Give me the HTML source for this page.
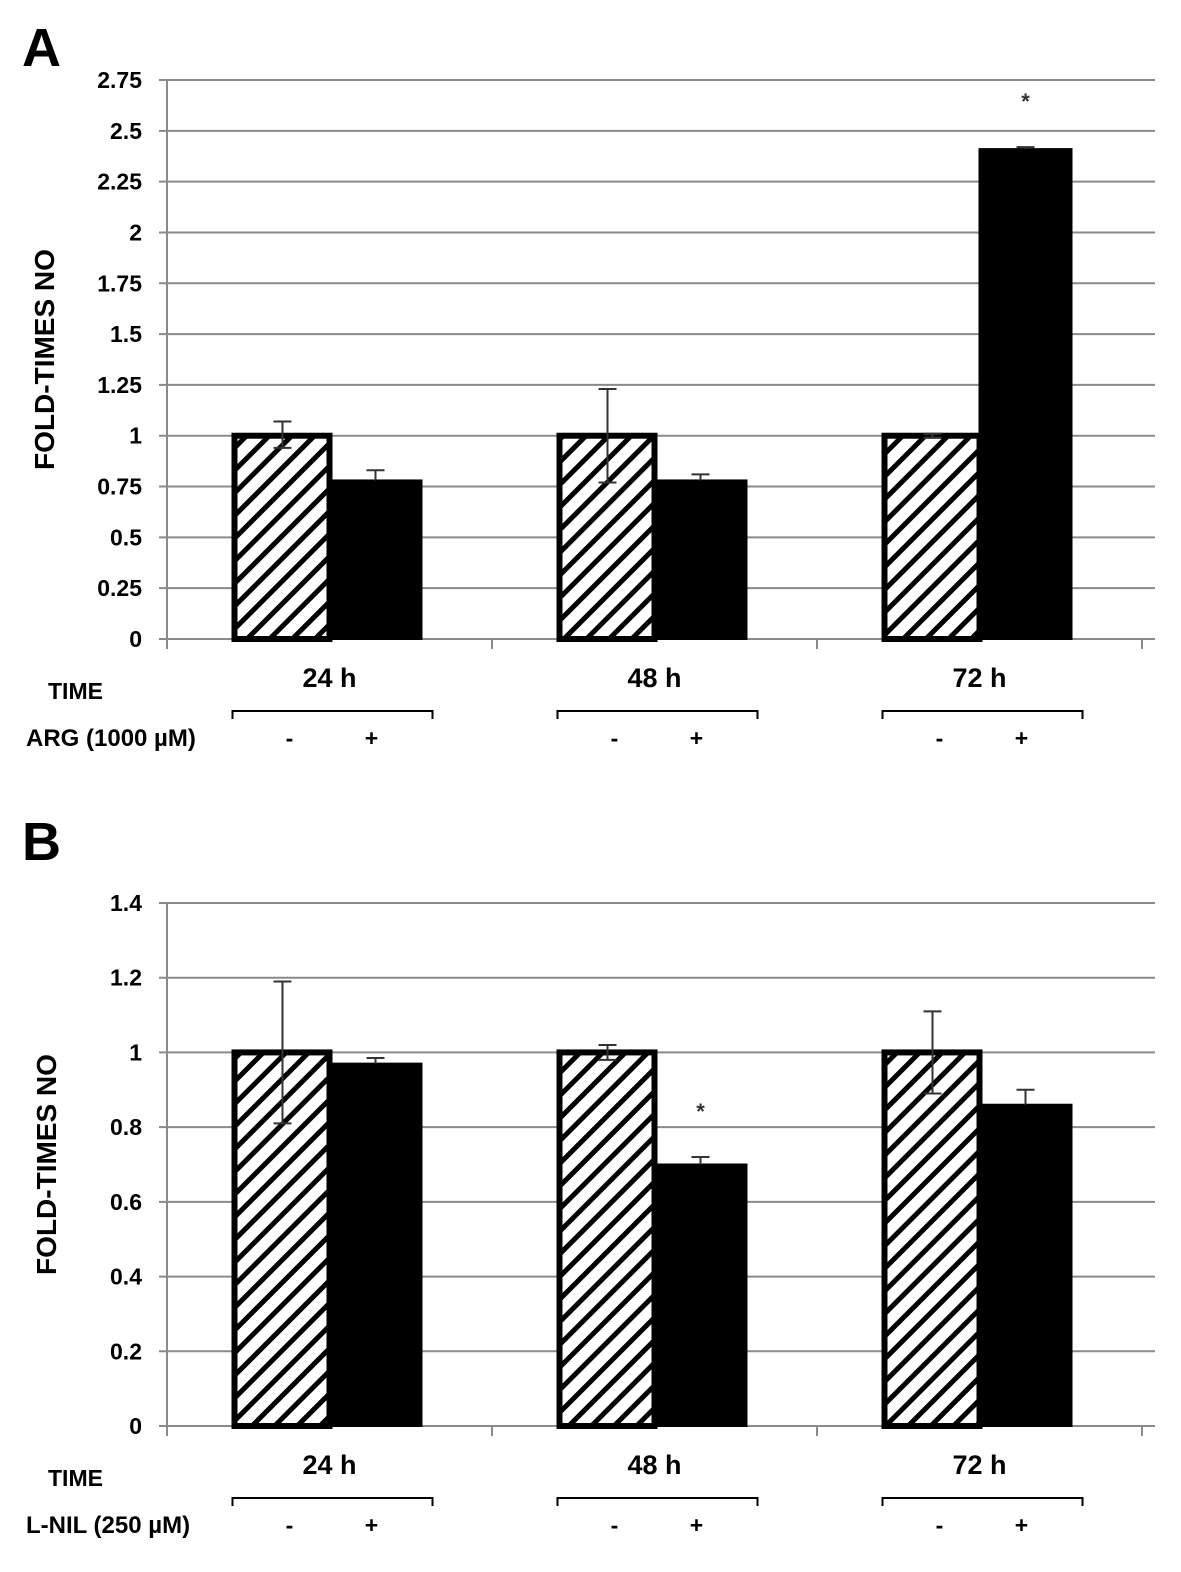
<!DOCTYPE html>
<html><head><meta charset="utf-8"><style>
html,body{margin:0;padding:0;background:#fff}
svg{display:block;font-family:"Liberation Sans",Arial,sans-serif;font-weight:bold}
</style></head><body>
<svg id="fig" width="1181" height="1572" viewBox="0 0 1181 1572" xmlns="http://www.w3.org/2000/svg">
<defs>
<pattern id="hatch" patternUnits="userSpaceOnUse" width="16" height="16" patternTransform="rotate(45)">
<rect width="16" height="16" fill="#fff"/><rect x="0" y="0" width="5" height="16" fill="#000"/>
</pattern>
</defs>
<g id="panels"></g>
</svg>
<script>
const groups = ["24 h","48 h","72 h"];
const aCtrl = [1.0, 1.0, 1.0];
const aCtrlErrHi = [1.07, 1.23, 1.01];
const aCtrlErrLo = [0.94, 0.77, 0.99];
const aTreat = [0.78, 0.78, 2.41];
const aTreatErr = [0.83, 0.81, 2.42];
const aTicks = ["0","0.25","0.5","0.75","1","1.25","1.5","1.75","2","2.25","2.5","2.75"];
const aTickVals = [0,0.25,0.5,0.75,1,1.25,1.5,1.75,2,2.25,2.5,2.75];
const aSig = [false,false,true];
const bCtrl = [1.0, 1.0, 1.0];
const bCtrlErrHi = [1.19, 1.02, 1.11];
const bCtrlErrLo = [0.81, 0.98, 0.89];
const bTreat = [0.97, 0.70, 0.86];
const bTreatErr = [0.985, 0.72, 0.90];
const bTicks = ["0","0.2","0.4","0.6","0.8","1","1.2","1.4"];
const bTickVals = [0,0.2,0.4,0.6,0.8,1,1.2,1.4];
const bSig = [false,true,false];

const NS="http://www.w3.org/2000/svg";
const root=document.getElementById('panels');
function mk(tag,attrs,parent,text){const e=document.createElementNS(NS,tag);for(const k in attrs)e.setAttribute(k,attrs[k]);if(text!==undefined)e.textContent=text;(parent||root).appendChild(e);return e;}

function panel(o){
  const g=mk('g',{});
  
  
  const x0=167,xEnd=1155,gw=325;
  const y=v=>o.y0-(v/o.max)*(o.y0-o.ytop);
  const xc=i=>x0+gw*(i+0.5);
  const L=mk('text',{x:22,y:o.letterY,'font-size':54},g,o.letter);
  
  
  o.tickVals.forEach((v,i)=>{
    const gl=mk('line',{x1:x0-8,x2:xEnd,y1:y(v),y2:y(v),stroke:'#8a8a8a','stroke-width':2},g);
    
    
    const t=mk('text',{x:142,y:y(v)+8,'font-size':23,'text-anchor':'end'},g,o.ticks[i]);
    
    
  });
  const ax=mk('line',{x1:x0,x2:x0,y1:o.ytop,y2:o.y0+10,stroke:'#8a8a8a','stroke-width':2},g);
  
  
  for(let k=1;k<=3;k++){const tk=mk('line',{x1:x0+gw*k,x2:x0+gw*k,y1:o.y0,y2:o.y0+10,stroke:'#8a8a8a','stroke-width':2},g);
    
    }
  const yt=mk('text',{x:0,y:0,'font-size':28,'text-anchor':'middle',transform:`translate(${o.titleX},${(o.y0+o.ytop)/2}) rotate(-90)`},g,'FOLD-TIMES NO');
  
  
  groups.forEach((name,i)=>{
    const c=xc(i);
    const hb=mk('rect',{x:c-95,y:y(o.ctrl[i]),width:95,height:o.y0-y(o.ctrl[i]),fill:'url(#hatch)',stroke:'#000','stroke-width':6},g);
    
    
    const tb=mk('rect',{x:c,y:y(o.treat[i]),width:92,height:o.y0-y(o.treat[i]),fill:'#000',stroke:'#000','stroke-width':2},g);
    
    
    const ex=c-47;
    const e1=mk('path',{d:`M${ex},${y(o.ctrlLo[i])}V${y(o.ctrlHi[i])}M${ex-9},${y(o.ctrlHi[i])}H${ex+9}M${ex-9},${y(o.ctrlLo[i])}H${ex+9}`,stroke:'#333','stroke-width':2,fill:'none'},g);
    
    
    const ex2=c+46;
    const e2=mk('path',{d:`M${ex2},${y(o.treat[i])}V${y(o.treatErr[i])}M${ex2-9},${y(o.treatErr[i])}H${ex2+9}`,stroke:'#333','stroke-width':2,fill:'none'},g);
    
    
    if(o.sig[i]){const s=mk('text',{x:ex2,y:y(o.treatErr[i])-38,'font-size':22,'text-anchor':'middle',fill:'#333'},g,'*');
      
      }
    const gl=mk('text',{x:c,y:o.y0+48,'font-size':27,'text-anchor':'middle'},g,name);
    
    
    const br=mk('path',{d:`M${c-97},${o.y0+80}V${o.y0+72}H${c+103}V${o.y0+80}`,stroke:'#000','stroke-width':2,fill:'none'},g);
    
    
    const m=mk('text',{x:c-40,y:o.y0+107,'font-size':23,'text-anchor':'middle'},g,'-');
    
    
    const p=mk('text',{x:c+42,y:o.y0+107,'font-size':23,'text-anchor':'middle'},g,'+');
    
    
  });
  const tm=mk('text',{x:48,y:o.y0+60,'font-size':23},g,'TIME');
  
  
  const tr=mk('text',{x:26,y:o.y0+107,'font-size':24},g,o.treatLabel);
  
  
}
panel({name:'panel-a',letter:'A',letterY:66,y0:639,ytop:80,max:2.75,ticks:aTicks,tickVals:aTickVals,ctrl:aCtrl,ctrlHi:aCtrlErrHi,ctrlLo:aCtrlErrLo,treat:aTreat,treatErr:aTreatErr,sig:aSig,treatLabel:'ARG  (1000 µM)',titleX:54});
panel({name:'panel-b',letter:'B',letterY:860,y0:1426,ytop:903,max:1.4,ticks:bTicks,tickVals:bTickVals,ctrl:bCtrl,ctrlHi:bCtrlErrHi,ctrlLo:bCtrlErrLo,treat:bTreat,treatErr:bTreatErr,sig:bSig,treatLabel:'L-NIL (250 µM)',titleX:56});
</script>
</body></html>
